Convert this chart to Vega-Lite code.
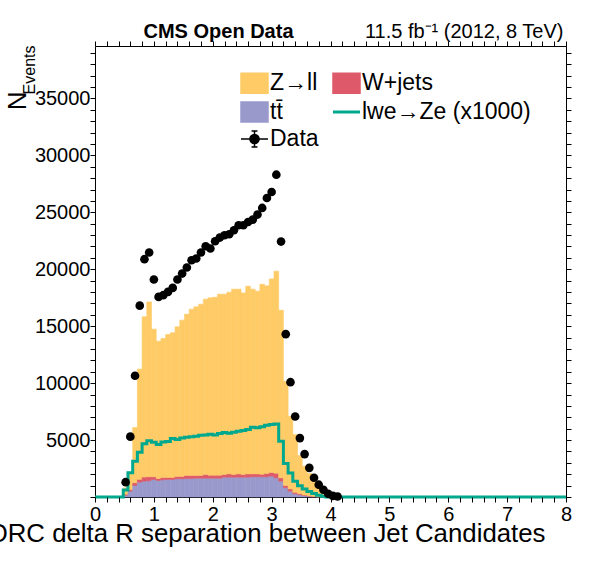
{
  "$schema": "https://vega.github.io/schema/vega-lite/v6.json",
  "width": 471,
  "height": 451,
  "autosize": {"type": "none"},
  "padding": {"left": 95, "top": 46, "right": 30, "bottom": 75},
  "background": "white",
  "datasets": {
    "mc": [
      {"lo": 0.48, "hi": 0.56, "process": "tt\u0304", "events": 150},
      {"lo": 0.48, "hi": 0.56, "process": "W+jets", "events": 100},
      {"lo": 0.48, "hi": 0.56, "process": "Z→ll", "events": 550},
      {"lo": 0.56, "hi": 0.64, "process": "tt\u0304", "events": 510},
      {"lo": 0.56, "hi": 0.64, "process": "W+jets", "events": 150},
      {"lo": 0.56, "hi": 0.64, "process": "Z→ll", "events": 1540},
      {"lo": 0.64, "hi": 0.72, "process": "tt\u0304", "events": 1010},
      {"lo": 0.64, "hi": 0.72, "process": "W+jets", "events": 240},
      {"lo": 0.64, "hi": 0.72, "process": "Z→ll", "events": 4850},
      {"lo": 0.72, "hi": 0.8, "process": "tt\u0304", "events": 1300},
      {"lo": 0.72, "hi": 0.8, "process": "W+jets", "events": 250},
      {"lo": 0.72, "hi": 0.8, "process": "Z→ll", "events": 9680},
      {"lo": 0.8, "hi": 0.88, "process": "tt\u0304", "events": 1390},
      {"lo": 0.8, "hi": 0.88, "process": "W+jets", "events": 360},
      {"lo": 0.8, "hi": 0.88, "process": "Z→ll", "events": 14070},
      {"lo": 0.88, "hi": 0.96, "process": "tt\u0304", "events": 1420},
      {"lo": 0.88, "hi": 0.96, "process": "W+jets", "events": 360},
      {"lo": 0.88, "hi": 0.96, "process": "Z→ll", "events": 15350},
      {"lo": 0.96, "hi": 1.04, "process": "tt\u0304", "events": 1540},
      {"lo": 0.96, "hi": 1.04, "process": "W+jets", "events": 230},
      {"lo": 0.96, "hi": 1.04, "process": "Z→ll", "events": 12970},
      {"lo": 1.04, "hi": 1.12, "process": "tt\u0304", "events": 1450},
      {"lo": 1.04, "hi": 1.12, "process": "W+jets", "events": 170},
      {"lo": 1.04, "hi": 1.12, "process": "Z→ll", "events": 12060},
      {"lo": 1.12, "hi": 1.2, "process": "tt\u0304", "events": 1510},
      {"lo": 1.12, "hi": 1.2, "process": "W+jets", "events": 200},
      {"lo": 1.12, "hi": 1.2, "process": "Z→ll", "events": 12210},
      {"lo": 1.2, "hi": 1.28, "process": "tt\u0304", "events": 1540},
      {"lo": 1.2, "hi": 1.28, "process": "W+jets", "events": 170},
      {"lo": 1.2, "hi": 1.28, "process": "Z→ll", "events": 12560},
      {"lo": 1.28, "hi": 1.36, "process": "tt\u0304", "events": 1540},
      {"lo": 1.28, "hi": 1.36, "process": "W+jets", "events": 170},
      {"lo": 1.28, "hi": 1.36, "process": "Z→ll", "events": 12710},
      {"lo": 1.36, "hi": 1.44, "process": "tt\u0304", "events": 1600},
      {"lo": 1.36, "hi": 1.44, "process": "W+jets", "events": 200},
      {"lo": 1.36, "hi": 1.44, "process": "Z→ll", "events": 13140},
      {"lo": 1.44, "hi": 1.52, "process": "tt\u0304", "events": 1600},
      {"lo": 1.44, "hi": 1.52, "process": "W+jets", "events": 200},
      {"lo": 1.44, "hi": 1.52, "process": "Z→ll", "events": 13730},
      {"lo": 1.52, "hi": 1.6, "process": "tt\u0304", "events": 1620},
      {"lo": 1.52, "hi": 1.6, "process": "W+jets", "events": 270},
      {"lo": 1.52, "hi": 1.6, "process": "Z→ll", "events": 14160},
      {"lo": 1.6, "hi": 1.68, "process": "tt\u0304", "events": 1620},
      {"lo": 1.6, "hi": 1.68, "process": "W+jets", "events": 270},
      {"lo": 1.6, "hi": 1.68, "process": "Z→ll", "events": 14600},
      {"lo": 1.68, "hi": 1.76, "process": "tt\u0304", "events": 1650},
      {"lo": 1.68, "hi": 1.76, "process": "W+jets", "events": 240},
      {"lo": 1.68, "hi": 1.76, "process": "Z→ll", "events": 14810},
      {"lo": 1.76, "hi": 1.84, "process": "tt\u0304", "events": 1650},
      {"lo": 1.76, "hi": 1.84, "process": "W+jets", "events": 240},
      {"lo": 1.76, "hi": 1.84, "process": "Z→ll", "events": 15040},
      {"lo": 1.84, "hi": 1.92, "process": "tt\u0304", "events": 1650},
      {"lo": 1.84, "hi": 1.92, "process": "W+jets", "events": 320},
      {"lo": 1.84, "hi": 1.92, "process": "Z→ll", "events": 15400},
      {"lo": 1.92, "hi": 2.0, "process": "tt\u0304", "events": 1650},
      {"lo": 1.92, "hi": 2.0, "process": "W+jets", "events": 260},
      {"lo": 1.92, "hi": 2.0, "process": "Z→ll", "events": 15580},
      {"lo": 2.0, "hi": 2.08, "process": "tt\u0304", "events": 1650},
      {"lo": 2.0, "hi": 2.08, "process": "W+jets", "events": 260},
      {"lo": 2.0, "hi": 2.08, "process": "Z→ll", "events": 15630},
      {"lo": 2.08, "hi": 2.16, "process": "tt\u0304", "events": 1650},
      {"lo": 2.08, "hi": 2.16, "process": "W+jets", "events": 260},
      {"lo": 2.08, "hi": 2.16, "process": "Z→ll", "events": 15900},
      {"lo": 2.16, "hi": 2.24, "process": "tt\u0304", "events": 1740},
      {"lo": 2.16, "hi": 2.24, "process": "W+jets", "events": 230},
      {"lo": 2.16, "hi": 2.24, "process": "Z→ll", "events": 15840},
      {"lo": 2.24, "hi": 2.32, "process": "tt\u0304", "events": 1740},
      {"lo": 2.24, "hi": 2.32, "process": "W+jets", "events": 290},
      {"lo": 2.24, "hi": 2.32, "process": "Z→ll", "events": 15950},
      {"lo": 2.32, "hi": 2.4, "process": "tt\u0304", "events": 1740},
      {"lo": 2.32, "hi": 2.4, "process": "W+jets", "events": 230},
      {"lo": 2.32, "hi": 2.4, "process": "Z→ll", "events": 16280},
      {"lo": 2.4, "hi": 2.48, "process": "tt\u0304", "events": 1740},
      {"lo": 2.4, "hi": 2.48, "process": "W+jets", "events": 290},
      {"lo": 2.4, "hi": 2.48, "process": "Z→ll", "events": 16220},
      {"lo": 2.48, "hi": 2.56, "process": "tt\u0304", "events": 1740},
      {"lo": 2.48, "hi": 2.56, "process": "W+jets", "events": 230},
      {"lo": 2.48, "hi": 2.56, "process": "Z→ll", "events": 15950},
      {"lo": 2.56, "hi": 2.64, "process": "tt\u0304", "events": 1740},
      {"lo": 2.56, "hi": 2.64, "process": "W+jets", "events": 290},
      {"lo": 2.56, "hi": 2.64, "process": "Z→ll", "events": 16480},
      {"lo": 2.64, "hi": 2.72, "process": "tt\u0304", "events": 1770},
      {"lo": 2.64, "hi": 2.72, "process": "W+jets", "events": 260},
      {"lo": 2.64, "hi": 2.72, "process": "Z→ll", "events": 16220},
      {"lo": 2.72, "hi": 2.8, "process": "tt\u0304", "events": 1770},
      {"lo": 2.72, "hi": 2.8, "process": "W+jets", "events": 260},
      {"lo": 2.72, "hi": 2.8, "process": "Z→ll", "events": 16040},
      {"lo": 2.8, "hi": 2.88, "process": "tt\u0304", "events": 1770},
      {"lo": 2.8, "hi": 2.88, "process": "W+jets", "events": 220},
      {"lo": 2.8, "hi": 2.88, "process": "Z→ll", "events": 16690},
      {"lo": 2.88, "hi": 2.96, "process": "tt\u0304", "events": 1770},
      {"lo": 2.88, "hi": 2.96, "process": "W+jets", "events": 290},
      {"lo": 2.88, "hi": 2.96, "process": "Z→ll", "events": 16480},
      {"lo": 2.96, "hi": 3.04, "process": "tt\u0304", "events": 1830},
      {"lo": 2.96, "hi": 3.04, "process": "W+jets", "events": 320},
      {"lo": 2.96, "hi": 3.04, "process": "Z→ll", "events": 17000},
      {"lo": 3.04, "hi": 3.12, "process": "tt\u0304", "events": 1680},
      {"lo": 3.04, "hi": 3.12, "process": "W+jets", "events": 410},
      {"lo": 3.04, "hi": 3.12, "process": "Z→ll", "events": 17740},
      {"lo": 3.12, "hi": 3.2, "process": "tt\u0304", "events": 1390},
      {"lo": 3.12, "hi": 3.2, "process": "W+jets", "events": 290},
      {"lo": 3.12, "hi": 3.2, "process": "Z→ll", "events": 14720},
      {"lo": 3.2, "hi": 3.28, "process": "tt\u0304", "events": 810},
      {"lo": 3.2, "hi": 3.28, "process": "W+jets", "events": 200},
      {"lo": 3.2, "hi": 3.28, "process": "Z→ll", "events": 9150},
      {"lo": 3.28, "hi": 3.36, "process": "tt\u0304", "events": 510},
      {"lo": 3.28, "hi": 3.36, "process": "W+jets", "events": 210},
      {"lo": 3.28, "hi": 3.36, "process": "Z→ll", "events": 6370},
      {"lo": 3.36, "hi": 3.44, "process": "tt\u0304", "events": 280},
      {"lo": 3.36, "hi": 3.44, "process": "W+jets", "events": 140},
      {"lo": 3.36, "hi": 3.44, "process": "Z→ll", "events": 5060},
      {"lo": 3.44, "hi": 3.52, "process": "tt\u0304", "events": 200},
      {"lo": 3.44, "hi": 3.52, "process": "W+jets", "events": 100},
      {"lo": 3.44, "hi": 3.52, "process": "Z→ll", "events": 3340},
      {"lo": 3.52, "hi": 3.6, "process": "tt\u0304", "events": 120},
      {"lo": 3.52, "hi": 3.6, "process": "W+jets", "events": 60},
      {"lo": 3.52, "hi": 3.6, "process": "Z→ll", "events": 2520},
      {"lo": 3.6, "hi": 3.68, "process": "tt\u0304", "events": 70},
      {"lo": 3.6, "hi": 3.68, "process": "W+jets", "events": 40},
      {"lo": 3.6, "hi": 3.68, "process": "Z→ll", "events": 1950},
      {"lo": 3.68, "hi": 3.76, "process": "tt\u0304", "events": 40},
      {"lo": 3.68, "hi": 3.76, "process": "W+jets", "events": 20},
      {"lo": 3.68, "hi": 3.76, "process": "Z→ll", "events": 1480},
      {"lo": 3.76, "hi": 3.84, "process": "tt\u0304", "events": 20},
      {"lo": 3.76, "hi": 3.84, "process": "W+jets", "events": 10},
      {"lo": 3.76, "hi": 3.84, "process": "Z→ll", "events": 1070},
      {"lo": 3.84, "hi": 3.92, "process": "tt\u0304", "events": 10},
      {"lo": 3.84, "hi": 3.92, "process": "W+jets", "events": 5},
      {"lo": 3.84, "hi": 3.92, "process": "Z→ll", "events": 645},
      {"lo": 3.92, "hi": 4.0, "process": "tt\u0304", "events": 5},
      {"lo": 3.92, "hi": 4.0, "process": "W+jets", "events": 3},
      {"lo": 3.92, "hi": 4.0, "process": "Z→ll", "events": 362},
      {"lo": 4.0, "hi": 4.08, "process": "tt\u0304", "events": 0},
      {"lo": 4.0, "hi": 4.08, "process": "W+jets", "events": 0},
      {"lo": 4.0, "hi": 4.08, "process": "Z→ll", "events": 120}
    ],
    "sig": [
      {"x": 0, "events": 0},
      {"x": 0.48, "events": 620},
      {"x": 0.56, "events": 2120},
      {"x": 0.64, "events": 3130},
      {"x": 0.72, "events": 3940},
      {"x": 0.8, "events": 4680},
      {"x": 0.88, "events": 4940},
      {"x": 0.96, "events": 4800},
      {"x": 1.04, "events": 4600},
      {"x": 1.12, "events": 4840},
      {"x": 1.2, "events": 4880},
      {"x": 1.28, "events": 5130},
      {"x": 1.36, "events": 5040},
      {"x": 1.44, "events": 5190},
      {"x": 1.52, "events": 5250},
      {"x": 1.6, "events": 5280},
      {"x": 1.68, "events": 5330},
      {"x": 1.76, "events": 5420},
      {"x": 1.84, "events": 5450},
      {"x": 1.92, "events": 5510},
      {"x": 2.0, "events": 5450},
      {"x": 2.08, "events": 5570},
      {"x": 2.16, "events": 5660},
      {"x": 2.24, "events": 5600},
      {"x": 2.32, "events": 5690},
      {"x": 2.4, "events": 5770},
      {"x": 2.48, "events": 5830},
      {"x": 2.56, "events": 5920},
      {"x": 2.64, "events": 6120},
      {"x": 2.72, "events": 6070},
      {"x": 2.8, "events": 6160},
      {"x": 2.88, "events": 6300},
      {"x": 2.96, "events": 6360},
      {"x": 3.04, "events": 6400},
      {"x": 3.12, "events": 4900},
      {"x": 3.2, "events": 2940},
      {"x": 3.28, "events": 2100},
      {"x": 3.36, "events": 1390},
      {"x": 3.44, "events": 990},
      {"x": 3.52, "events": 700},
      {"x": 3.6, "events": 490},
      {"x": 3.68, "events": 300},
      {"x": 3.76, "events": 160},
      {"x": 3.84, "events": 70},
      {"x": 3.92, "events": 0},
      {"x": 8, "events": 0}
    ],
    "obs": [
      {"x": 0.52, "events": 1300},
      {"x": 0.6, "events": 5300},
      {"x": 0.68, "events": 10650},
      {"x": 0.76, "events": 16800},
      {"x": 0.84, "events": 20880},
      {"x": 0.92, "events": 21470},
      {"x": 1.0, "events": 19100},
      {"x": 1.08, "events": 17570},
      {"x": 1.16, "events": 17720},
      {"x": 1.24, "events": 18010},
      {"x": 1.32, "events": 18360},
      {"x": 1.4, "events": 19100},
      {"x": 1.48, "events": 19620},
      {"x": 1.56, "events": 20150},
      {"x": 1.64, "events": 20790},
      {"x": 1.72, "events": 20940},
      {"x": 1.8, "events": 21470},
      {"x": 1.88, "events": 22020},
      {"x": 1.96, "events": 21820},
      {"x": 2.04, "events": 22460},
      {"x": 2.12, "events": 22780},
      {"x": 2.2, "events": 22980},
      {"x": 2.28, "events": 23070},
      {"x": 2.36, "events": 23420},
      {"x": 2.44, "events": 23860},
      {"x": 2.52, "events": 23860},
      {"x": 2.6, "events": 24150},
      {"x": 2.68, "events": 24360},
      {"x": 2.76, "events": 24800},
      {"x": 2.84, "events": 25380},
      {"x": 2.92, "events": 26250},
      {"x": 3.0, "events": 26780},
      {"x": 3.08, "events": 28300},
      {"x": 3.16, "events": 22430},
      {"x": 3.24, "events": 14300},
      {"x": 3.32, "events": 10080},
      {"x": 3.4, "events": 7070},
      {"x": 3.48, "events": 5170},
      {"x": 3.56, "events": 3770},
      {"x": 3.64, "events": 2560},
      {"x": 3.72, "events": 1690},
      {"x": 3.8, "events": 1080},
      {"x": 3.88, "events": 640},
      {"x": 3.96, "events": 280},
      {"x": 4.04, "events": 100},
      {"x": 4.12, "events": 40}
    ]
  },
  "layer": [
    {
      "data": {"name": "mc"},
      "transform": [
        {"stack": "events", "groupby": ["lo"], "as": ["y0", "y1"]}
      ],
      "mark": {"type": "rect", "strokeWidth": 0.6},
      "encoding": {
        "x": {
          "field": "lo",
          "type": "quantitative",
          "scale": {"domain": [0, 8], "nice": false, "zero": false},
          "axis": {
            "orient": "bottom",
            "values": [0, 1, 2, 3, 4, 5, 6, 7, 8],
            "format": "d",
            "ticks": false,
            "labelFontSize": 20,
            "labelPadding": 7,
            "labelFlush": false,
            "labelOverlap": false,
            "title": "ORC delta R separation between Jet Candidates",
            "titleFontSize": 25.8,
            "titleX": 450,
            "titleY": 44,
            "titleAlign": "right",
            "titleBaseline": "alphabetic",
            "titleAngle": 0
          }
        },
        "x2": {"field": "hi"},
        "y": {
          "field": "y1",
          "type": "quantitative",
          "scale": {"domain": [0, 39600], "nice": false},
          "axis": {
            "orient": "left",
            "values": [5000, 10000, 15000, 20000, 25000, 30000, 35000],
            "format": "d",
            "ticks": false,
            "labelFontSize": 20,
            "labelPadding": 5,
            "labelOverlap": false,
            "title": "N",
            "titleFontSize": 26,
            "titleX": -70,
            "titleY": 45,
            "titleAngle": 270,
            "titleAlign": "right",
            "titleBaseline": "alphabetic"
          }
        },
        "y2": {"field": "y0"},
        "stroke": {
          "field": "process",
          "type": "nominal",
          "scale": {
            "domain": ["Z→ll", "tt\u0304", "Data", "W+jets", "lwe→Ze (x1000)"],
            "range": ["#fecb66", "#9a99cc", "#000000", "#de5a6a", "#00a88e"]
          },
          "legend": null
        },
        "color": {
          "field": "process",
          "type": "nominal",
          "scale": {
            "domain": ["Z→ll", "tt\u0304", "Data", "W+jets", "lwe→Ze (x1000)"],
            "range": ["#fecb66", "#9a99cc", "#000000", "#de5a6a", "#00a88e"]
          },
          "legend": {
            "title": null,
            "orient": "none",
            "legendX": 148,
            "legendY": 25.5,
            "columns": 2,
            "columnPadding": 8,
            "rowPadding": 2,
            "padding": 0,
            "symbolSize": 729,
            "labelFont": "Liberation Sans",
            "labelFontSize": 23,
            "labelColor": "black",
            "labelOffset": 4,
            "labelLimit": 300,
            "encode": {
              "symbols": {
                "update": {
                  "shape": {"signal": "datum.value === 'Data' ? 'M-1,0L1,0M0,-0.6L0,0.6M-0.22,-0.6L0.22,-0.6M-0.22,0.6L0.22,0.6M0.34,0A0.34,0.34,0,1,1,-0.34,0A0.34,0.34,0,1,1,0.34,0Z' : datum.value === 'lwe→Ze (x1000)' ? 'stroke' : 'M-1,-0.74L1,-0.74L1,0.74L-1,0.74Z'"},
                  "fill": {"scale": "color", "field": "value"},
                  "stroke": {"signal": "datum.value === 'Data' ? 'black' : datum.value === 'lwe→Ze (x1000)' ? '#00a88e' : 'transparent'"},
                  "strokeWidth": {"signal": "datum.value === 'lwe→Ze (x1000)' ? 3 : 1.5"},
                  "opacity": {"value": 1}
                }
              }
            }
          }
        }
      }
    },
    {
      "data": {"name": "sig"},
      "mark": {"type": "line", "interpolate": "step-after", "color": "#00a88e", "strokeWidth": 3},
      "encoding": {
        "x": {
          "field": "x",
          "type": "quantitative",
          "scale": {"domain": [0, 8], "nice": false, "zero": false},
          "axis": {
            "orient": "bottom",
            "values": [0, 0.2, 0.4, 0.6, 0.8, 1, 1.2, 1.4, 1.6, 1.8, 2, 2.2, 2.4, 2.6, 2.8, 3, 3.2, 3.4, 3.6, 3.8, 4, 4.2, 4.4, 4.6, 4.8, 5, 5.2, 5.4, 5.6, 5.8, 6, 6.2, 6.4, 6.6, 6.8, 7, 7.2, 7.4, 7.6, 7.8, 8],
            "labels": false,
            "title": null,
            "zindex": 1,
            "encode": {"ticks": {"update": {"y2": {"signal": "datum.value % 1 === 0 ? -13 : -7"}}}}
          }
        },
        "y": {
          "field": "events",
          "type": "quantitative",
          "scale": {"domain": [0, 39600], "nice": false},
          "axis": {
            "orient": "left",
            "values": [0, 1000, 2000, 3000, 4000, 5000, 6000, 7000, 8000, 9000, 10000, 11000, 12000, 13000, 14000, 15000, 16000, 17000, 18000, 19000, 20000, 21000, 22000, 23000, 24000, 25000, 26000, 27000, 28000, 29000, 30000, 31000, 32000, 33000, 34000, 35000, 36000, 37000, 38000, 39000],
            "labels": false,
            "zindex": 1,
            "encode": {"ticks": {"update": {"x2": {"signal": "datum.value % 5000 === 0 ? 14 : 7"}}}},
            "title": "Events",
            "titleFontSize": 16,
            "titleX": -61,
            "titleY": -1,
            "titleAngle": 270,
            "titleAlign": "right",
            "titleBaseline": "alphabetic"
          }
        }
      }
    },
    {
      "data": {"name": "obs"},
      "mark": {"type": "circle", "color": "black", "size": 75, "opacity": 1},
      "encoding": {
        "x": {
          "field": "x",
          "type": "quantitative",
          "scale": {"domain": [0, 8], "nice": false, "zero": false},
          "axis": {
            "orient": "top",
            "values": [0, 0.2, 0.4, 0.6, 0.8, 1, 1.2, 1.4, 1.6, 1.8, 2, 2.2, 2.4, 2.6, 2.8, 3, 3.2, 3.4, 3.6, 3.8, 4, 4.2, 4.4, 4.6, 4.8, 5, 5.2, 5.4, 5.6, 5.8, 6, 6.2, 6.4, 6.6, 6.8, 7, 7.2, 7.4, 7.6, 7.8, 8],
            "labels": false,
            "zindex": 1,
            "encode": {"ticks": {"update": {"y2": {"signal": "datum.value % 1 === 0 ? 13 : 7"}}}},
            "title": "11.5 fb⁻¹ (2012, 8 TeV)",
            "titleFontSize": 20,
            "titleX": 468,
            "titleY": -9,
            "titleAngle": 0,
            "titleAlign": "right",
            "titleBaseline": "alphabetic"
          }
        },
        "y": {
          "field": "events",
          "type": "quantitative",
          "scale": {"domain": [0, 39600], "nice": false},
          "axis": {
            "orient": "right",
            "values": [0, 1000, 2000, 3000, 4000, 5000, 6000, 7000, 8000, 9000, 10000, 11000, 12000, 13000, 14000, 15000, 16000, 17000, 18000, 19000, 20000, 21000, 22000, 23000, 24000, 25000, 26000, 27000, 28000, 29000, 30000, 31000, 32000, 33000, 34000, 35000, 36000, 37000, 38000, 39000],
            "labels": false,
            "zindex": 1,
            "encode": {"ticks": {"update": {"x2": {"signal": "datum.value % 5000 === 0 ? -14 : -7"}}}},
            "title": "CMS Open Data",
            "titleFontSize": 20,
            "titleFontWeight": "bold",
            "titleX": -423,
            "titleY": -9,
            "titleAngle": 0,
            "titleAlign": "left",
            "titleBaseline": "alphabetic"
          }
        }
      }
    }
  ],
  "resolve": {"axis": {"x": "independent", "y": "independent"}},
  "config": {
    "font": "Liberation Sans",
    "view": {"stroke": "black", "strokeWidth": 1},
    "axis": {
      "grid": false,
      "domain": false,
      "labelFont": "Liberation Sans",
      "titleFont": "Liberation Sans",
      "labelColor": "black",
      "titleColor": "black",
      "tickColor": "black",
      "tickWidth": 1,
      "titleFontWeight": "normal"
    }
  }
}
